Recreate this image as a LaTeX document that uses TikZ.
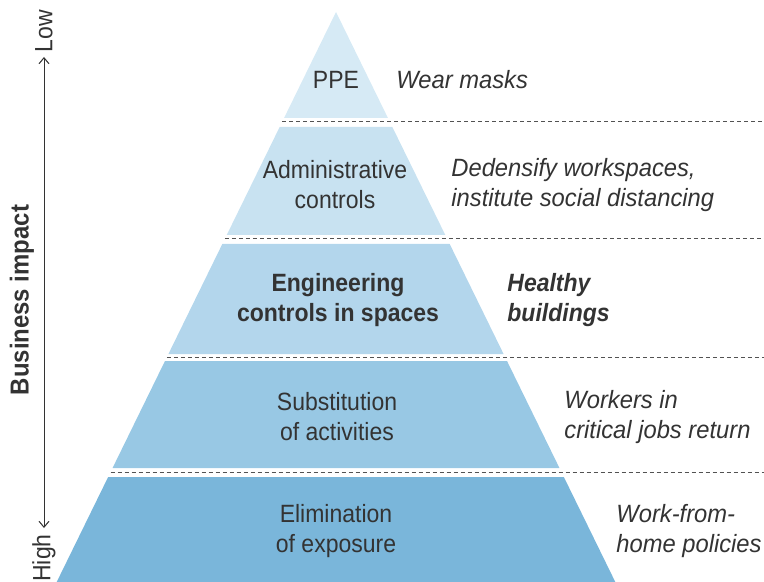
\documentclass[tikz,border=0pt]{standalone}
\usepackage{fontspec}
\setmainfont{Liberation Sans}[FakeStretch=0.92]
\newfontfamily\notefont{Liberation Sans}[FakeStretch=0.95]
\usetikzlibrary{arrows.meta}
\definecolor{ink}{HTML}{333333}
\definecolor{ppe}{HTML}{D6EAF5}
\definecolor{adm}{HTML}{C8E2F1}
\definecolor{eng}{HTML}{B3D6EC}
\definecolor{sub}{HTML}{98C8E4}
\definecolor{elim}{HTML}{7AB6DA}
\begin{document}
\begin{tikzpicture}[x=0.5pt,y=-0.5pt]
	% apex of the pyramid and how fast it widens
	\def\apx{336}
	\def\apy{12}
	\def\slope{0.49}
	% text styles
	\tikzstyle{level} = [text=ink, align=center, font=\fontsize{12.5}{15}\selectfont];
	\tikzstyle{note} = [text=ink, align=left, anchor=west, inner sep=0pt, font=\fontsize{12.5}{15}\selectfont\notefont\itshape];
	\tikzstyle{sep} = [draw=ink!85, dash pattern=on 2pt off 1.5pt, line width=0.5pt];
	\tikzstyle{axis} = [draw=ink, line width=0.5pt, {Straight Barb[length=3pt,width=5pt]}-{Straight Barb[length=3pt,width=5pt]}];
	\useasboundingbox (0,0) rectangle (764,582);
	% pyramid bands, top to bottom
	\foreach \ytop/\ybot/\col in {12/118/ppe,127/235/adm,244/354/eng,361/468/sub,477/582/elim} {
		\fill[\col] ({\apx-\slope*(\ytop-\apy)},\ytop) -- ({\apx+\slope*(\ytop-\apy)},\ytop)
			-- ({\apx+\slope*(\ybot-\apy)},\ybot) -- ({\apx-\slope*(\ybot-\apy)},\ybot) -- cycle;
	}
	% dashed rules between the bands
	\foreach \y in {122,239,357,472} {
		\draw[sep] ({\apx-\slope*(\y-\apy)},\y) -- (764,\y);
	}
	% band labels
	\node[level] (ppe) at (336,80) {PPE};
	\node[level] (adm) at (335,185) {Administrative\\controls};
	\node[level, font=\fontsize{12.5}{15}\selectfont\bfseries] (eng) at (338,300) {Engineering\\controls in spaces};
	\node[level] (sub) at (337,417) {Substitution\\of activities};
	\node[level] (elim) at (336,531) {Elimination\\of exposure};
	% examples to the right
	\node[note] (ppe-note) at (396,80) {Wear masks};
	\node[note] (adm-note) at (451,185) {Dedensify workspaces,\\institute social distancing};
	\node[note, font=\fontsize{12.5}{15}\selectfont\bfseries\itshape] (eng-note) at (507,300) {Healthy\\buildings};
	\node[note] (sub-note) at (564,417) {Workers in\\critical jobs return};
	\node[note] (elim-note) at (616,531) {Work-from-\\home policies};
	% business impact scale
	\coordinate (axis-top) at (44,57);
	\coordinate (axis-bot) at (44,528);
	\draw[axis] (axis-bot) -- (axis-top);
	\node[level, rotate=90] (low) at (44,31) {Low};
	\node[level, rotate=90] (high) at (44,558) {High};
	\node[level, rotate=90, font=\fontsize{13}{15}\selectfont\bfseries] (impact) at (22,300) {Business impact};
\end{tikzpicture}
\end{document}
